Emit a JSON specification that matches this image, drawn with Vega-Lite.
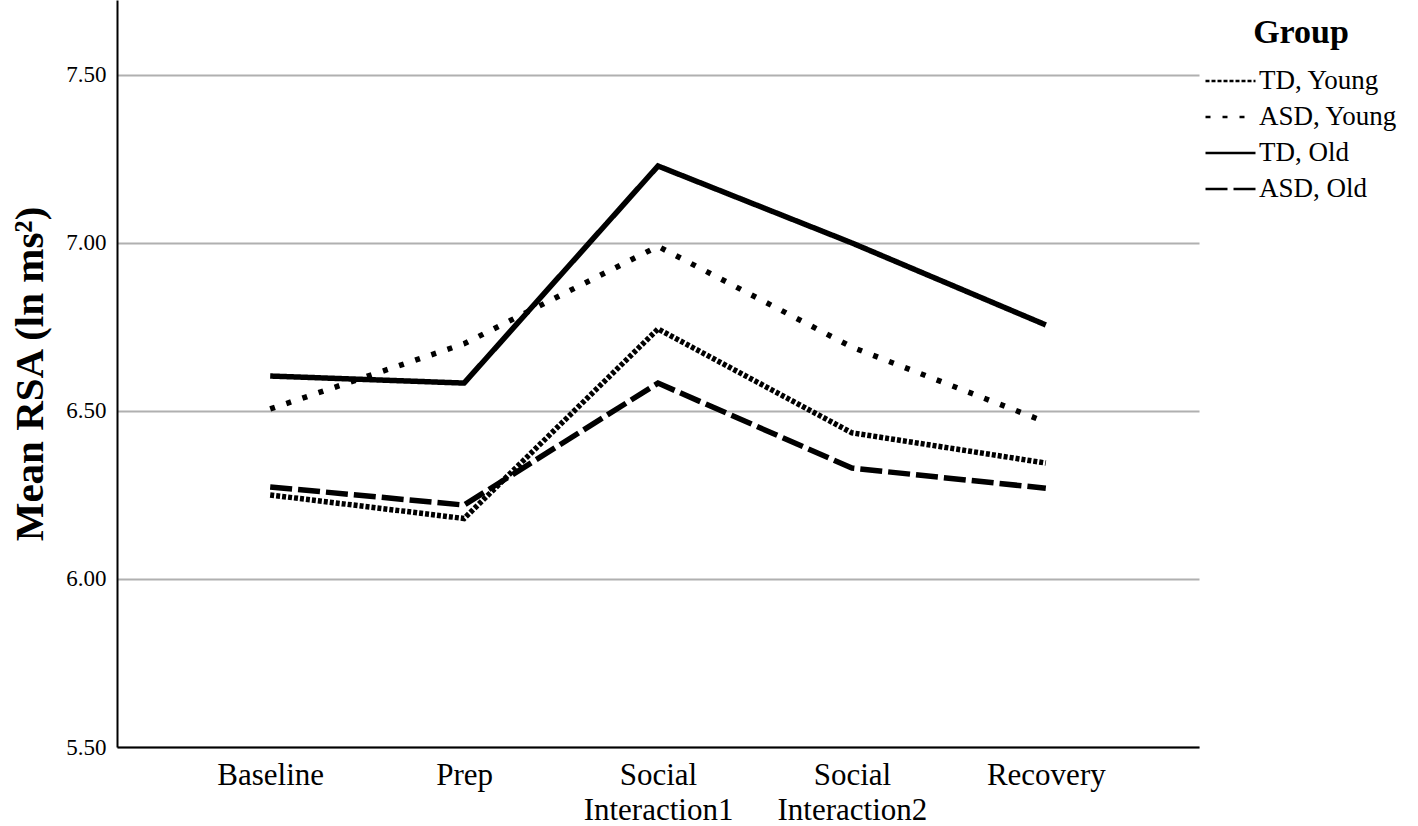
{
  "$schema": "https://vega.github.io/schema/vega-lite/v6.json",
  "width": 1082,
  "height": 747,
  "autosize": {"type": "none"},
  "padding": {"left": 117, "top": 0, "right": 219, "bottom": 79},
  "background": "white",
  "config": {
    "view": {"stroke": null},
    "font": "Liberation Serif"
  },
  "data": {
    "values": [
      {"phase": "Baseline", "group": "TD, Young", "rsa": 6.25},
      {"phase": "Prep", "group": "TD, Young", "rsa": 6.18},
      {"phase": "Social Interaction1", "group": "TD, Young", "rsa": 6.744},
      {"phase": "Social Interaction2", "group": "TD, Young", "rsa": 6.435},
      {"phase": "Recovery", "group": "TD, Young", "rsa": 6.345},
      {"phase": "Baseline", "group": "ASD, Young", "rsa": 6.506},
      {"phase": "Prep", "group": "ASD, Young", "rsa": 6.70},
      {"phase": "Social Interaction1", "group": "ASD, Young", "rsa": 6.99},
      {"phase": "Social Interaction2", "group": "ASD, Young", "rsa": 6.69},
      {"phase": "Recovery", "group": "ASD, Young", "rsa": 6.467},
      {"phase": "Baseline", "group": "TD, Old", "rsa": 6.604},
      {"phase": "Prep", "group": "TD, Old", "rsa": 6.583},
      {"phase": "Social Interaction1", "group": "TD, Old", "rsa": 7.229},
      {"phase": "Social Interaction2", "group": "TD, Old", "rsa": 7.0},
      {"phase": "Recovery", "group": "TD, Old", "rsa": 6.756},
      {"phase": "Baseline", "group": "ASD, Old", "rsa": 6.274},
      {"phase": "Prep", "group": "ASD, Old", "rsa": 6.22},
      {"phase": "Social Interaction1", "group": "ASD, Old", "rsa": 6.583},
      {"phase": "Social Interaction2", "group": "ASD, Old", "rsa": 6.33},
      {"phase": "Recovery", "group": "ASD, Old", "rsa": 6.27}
    ]
  },
  "mark": {"type": "line", "color": "black", "strokeWidth": 5.5, "strokeCap": "butt", "strokeJoin": "miter"},
  "encoding": {
    "x": {
      "field": "phase",
      "type": "nominal",
      "sort": ["Baseline", "Prep", "Social Interaction1", "Social Interaction2", "Recovery"],
      "scale": {"type": "point", "padding": 0.79},
      "axis": {
        "title": null,
        "ticks": false,
        "domainColor": "black",
        "domainWidth": 2,
        "labelFont": "Liberation Serif",
        "labelFontSize": 31,
        "labelColor": "black",
        "labelAngle": 0,
        "labelPadding": 13,
        "labelLineHeight": 35,
        "labelBaseline": "top",
        "labelExpr": "split(datum.label, ' ')"
      }
    },
    "y": {
      "field": "rsa",
      "type": "quantitative",
      "scale": {"domain": [5.5, 7.723], "nice": false, "zero": false},
      "axis": {
        "title": "Mean RSA (ln ms²)",
        "titleFont": "Liberation Serif",
        "titleFontSize": 41,
        "titleFontWeight": "bold",
        "titleColor": "black",
        "titlePadding": 14,
        "values": [5.5, 6.0, 6.5, 7.0, 7.5],
        "format": ".2f",
        "ticks": false,
        "grid": true,
        "gridColor": "#b0b0b0",
        "gridWidth": 2,
        "domainColor": "black",
        "domainWidth": 2,
        "labelFont": "Liberation Serif",
        "labelFontSize": 23,
        "labelColor": "black",
        "labelPadding": 11
      }
    },
    "strokeDash": {
      "field": "group",
      "type": "nominal",
      "scale": {
        "domain": ["TD, Young", "ASD, Young", "TD, Old", "ASD, Old"],
        "range": [[4, 2], [5, 12], [1, 0], [22, 6]]
      },
      "legend": {
        "title": "Group",
        "orient": "none",
        "legendX": 1087,
        "legendY": 16,
        "titleAnchor": "middle",
        "titleFont": "Liberation Serif",
        "titleFontSize": 34,
        "titleFontWeight": "bold",
        "titleColor": "black",
        "titlePadding": 13,
        "symbolType": "stroke",
        "symbolSize": 2500,
        "symbolStrokeWidth": 2.5,
        "symbolStrokeColor": "black",
        "clipHeight": 36,
        "labelFont": "Liberation Serif",
        "labelFontSize": 27,
        "labelColor": "black",
        "labelOffset": 2,
        "rowPadding": 0,
        "labelLimit": 300
      }
    }
  }
}
